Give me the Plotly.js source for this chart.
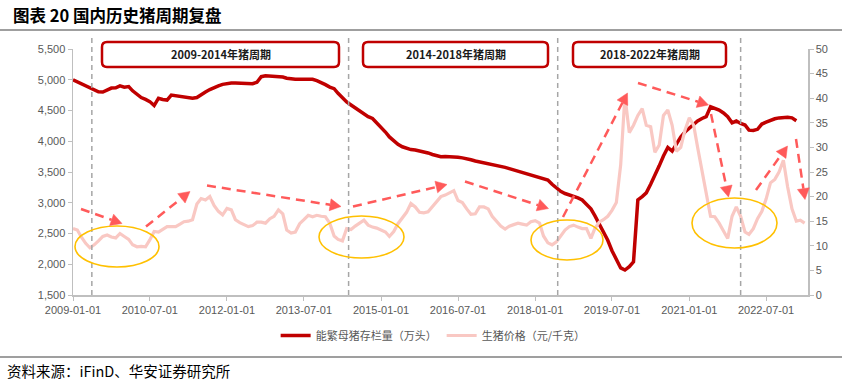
<!DOCTYPE html>
<html><head><meta charset="utf-8">
<script src="https://cdn.plot.ly/plotly-3.0.1.min.js"></script>
<style>html,body{margin:0;padding:0;background:#fff}#chart{width:842px;height:389px}</style>
</head><body><div id="chart"></div>
<script>
// ---------- data ----------
const firstYear = 2009;   // monthly series start 2009-01
const sowInventory = [ // 能繁母猪存栏量（万头）, monthly from 2009-01
5000,4965,4935,4905,4880,4840,4805,4800,4835,4865,
4870,4900,4880,4890,4820,4760,4710,4680,4645,4580,
4700,4680,4670,4750,4740,4730,4715,4700,4698,4710,
4760,4800,4840,4875,4900,4925,4942,4947,4948,4947,
4945,4940,4935,4960,5050,5066,5062,5061,5060,5045,
5025,5012,5008,5007,5005,5008,5007,4985,4955,4920,
4880,4855,4780,4705,4640,4590,4540,4495,4450,4400,
4370,4300,4230,4150,4070,4010,3950,3910,3885,3865,
3858,3845,3832,3810,3785,3765,3750,3752,3750,3749,
3740,3730,3722,3700,3680,3665,3650,3635,3625,3615,
3600,3575,3555,3535,3515,3500,3470,3450,3435,3420,
3400,3370,3300,3245,3185,3150,3125,3110,3080,3045,
2975,2900,2790,2660,2530,2390,2220,2070,1940,1906,
1960,2040,3045,3100,3160,3300,3440,3600,3760,3900,
3840,3950,4070,4150,4210,4270,4330,4370,4400,4560,
4540,4508,4460,4400,4300,4329,4290,4264,4180,4175,
4194,4280,4310,4345,4365,4380,4390,4390,4380,4334
];
const hogPrice = [ // 生猪价格（元/千克）, monthly from 2009-01
13.5,13.2,11.8,10.5,9.6,10.2,11.0,11.9,12.2,11.8,
11.6,12.5,11.9,11.3,10.2,9.8,9.9,9.8,11.2,12.9,
12.8,13.3,13.9,13.9,13.9,14.4,14.9,15.0,15.3,18.5,
19.6,19.3,20.0,18.2,17.0,16.3,17.6,17.3,15.3,14.7,
14.3,13.9,14.1,14.8,14.8,14.6,15.5,16.0,17.3,16.5,
13.2,12.6,12.8,14.5,15.3,16.2,15.9,16.2,16.0,15.9,
14.6,12.0,11.3,11.0,13.5,13.3,14.0,14.7,15.2,14.2,
13.8,13.6,13.2,12.8,11.9,12.9,14.5,15.7,16.8,18.6,
17.9,16.8,16.7,16.9,17.9,19.0,20.0,20.3,20.8,21.2,
19.2,18.8,17.5,16.4,16.5,17.9,17.9,17.5,16.0,14.9,
14.0,13.4,14.0,14.3,14.6,14.4,14.2,14.9,15.1,14.6,
12.0,10.6,10.2,10.8,12.0,13.2,13.9,14.2,13.8,13.5,
13.5,11.5,13.5,14.8,15.3,16.0,17.2,18.8,26.5,40.5,
33.0,34.5,36.5,37.9,34.5,34.2,29.0,30.5,36.5,37.6,
34.5,29.2,30.0,33.5,36.0,34.5,30.0,25.0,21.0,16.0,
15.9,14.6,13.0,11.5,16.0,17.9,16.0,12.8,12.3,13.5,
15.5,17.0,19.5,22.8,23.5,25.0,27.4,22.0,17.5,15.0,
15.2,14.6
];
const seriesNames = ['能繁母猪存栏量（万头）', '生猪价格（元/千克）'];
const cycleLabels = ['2009-2014年猪周期', '2014-2018年猪周期', '2018-2022年猪周期'];
const cycleBoundaries = ['2009-05-15', '2014-05-15', '2018-06-10', '2022-01-01'];

// ---------- layout helpers (pixel geometry of the figure) ----------
const W = 842, H = 389, ML = 73, MR = 34, MT = 49, MB = 94;
const PW = W - ML - MR, PH = H - MT - MB;
const px = v => (v - ML) / PW;
const py = v => (MT + PH - v) / PH;

function monthDates(n) {
  const out = [];
  for (let i = 0; i < n; i++) {
    const y = firstYear + Math.floor(i / 12), m = i % 12 + 1;
    out.push(y + '-' + String(m).padStart(2, '0') + '-01');
  }
  return out;
}

const shapes = [];
const annotations = [];

// header / footer rules
shapes.push({type:'line', xref:'paper', yref:'paper', x0:px(0), x1:px(W), y0:py(30), y1:py(30), line:{color:'#404040', width:1.2}});
shapes.push({type:'line', xref:'paper', yref:'paper', x0:px(0), x1:px(W), y0:py(357), y1:py(357), line:{color:'#404040', width:1.2}});

// cycle boundary dashed verticals
cycleBoundaries.forEach(d => shapes.push({type:'line', xref:'x', yref:'paper', x0:d, x1:d, y0:0, y1:py(36),
  line:{color:'#A6A6A6', width:1.5, dash:'5px,4px'}}));

// rounded boxes with labels
function rrect(x0, y0, x1, y1, r) {
  const P = (x, y) => px(x).toFixed(5) + ',' + py(y).toFixed(5);
  return 'M' + P(x0 + r, y0) + ' L' + P(x1 - r, y0) + ' Q' + P(x1, y0) + ' ' + P(x1, y0 + r) +
    ' L' + P(x1, y1 - r) + ' Q' + P(x1, y1) + ' ' + P(x1 - r, y1) +
    ' L' + P(x0 + r, y1) + ' Q' + P(x0, y1) + ' ' + P(x0, y1 - r) +
    ' L' + P(x0, y0 + r) + ' Q' + P(x0, y0) + ' ' + P(x0 + r, y0) + ' Z';
}
const boxes = [[102, 339], [363, 548], [573, 726]];
boxes.forEach((b, i) => {
  shapes.push({type:'path', xref:'paper', yref:'paper', path: rrect(b[0], 42, b[1], 67, 5),
    line:{color:'#C00000', width:2.5}, fillcolor:'#FFFFFF'});
  annotations.push({xref:'paper', yref:'paper', x:px((b[0] + b[1]) / 2), y:py(54.5), text:'<b>' + cycleLabels[i] + '</b>',
    showarrow:false, xanchor:'center', yanchor:'middle', font:{family:'Noto Sans CJK SC, Liberation Sans', size:11, color:'#1a1a1a'}});
});

// ellipses
[[75, 226, 159, 267], [319, 216, 404, 258], [531, 220, 603, 260], [692, 198, 777, 248]].forEach(e =>
  shapes.push({type:'circle', xref:'paper', yref:'paper', x0:px(e[0]), x1:px(e[2]), y0:py(e[3]), y1:py(e[1]),
    line:{color:'#FFC000', width:1.6}}));

// dashed arrows
const arrowColor = '#FF5A5A';
const arrows = [
  [81, 209, 122, 223.5], [146, 226.5, 190, 191.5], [207, 185.5, 341, 206.5], [353, 206.5, 447, 184.5],
  [465, 181.5, 548.5, 208.5], [563, 217, 627.5, 93], [638, 83, 708.5, 105], [711, 114, 728.5, 197],
  [756, 190, 787.5, 146], [796, 139, 805, 199.5]
];
arrows.forEach(a => {
  const dx = a[2] - a[0], dy = a[3] - a[1], len = Math.hypot(dx, dy);
  const ux = dx / len, uy = dy / len, L = 11, Wd = 6;
  const bx = a[2] - ux * L, by = a[3] - uy * L;
  shapes.push({type:'line', xref:'paper', yref:'paper', x0:px(a[0]), y0:py(a[1]), x1:px(bx), y1:py(by),
    line:{color:arrowColor, width:2.5, dash:'9px,6px'}});
  const p1 = [bx - uy * Wd, by + ux * Wd], p2 = [bx + uy * Wd, by - ux * Wd];
  shapes.push({type:'path', xref:'paper', yref:'paper',
    path:'M' + px(a[2]) + ',' + py(a[3]) + ' L' + px(p1[0]) + ',' + py(p1[1]) + ' L' + px(p2[0]) + ',' + py(p2[1]) + ' Z',
    fillcolor:arrowColor, line:{color:arrowColor, width:0.5}});
});

// title and source
annotations.push({xref:'paper', yref:'paper', x:px(11), y:py(15), xanchor:'left', yanchor:'middle', showarrow:false,
  text:'<b>图表 20 国内历史猪周期复盘</b>', font:{family:'Noto Sans CJK SC, Liberation Sans', size:16.5, color:'#000'}});
annotations.push({xref:'paper', yref:'paper', x:px(5), y:py(370), xanchor:'left', yanchor:'middle', showarrow:false,
  text:'资料来源：iFinD、华安证券研究所', font:{family:'Noto Sans CJK SC, Liberation Sans', size:14.5, color:'#000'}});

const traces = [
  {x: monthDates(hogPrice.length), y: hogPrice, name: seriesNames[1], yaxis:'y2', type:'scatter', mode:'lines',
   line:{color:'#F9C8C3', width:3.2}, legendrank:2},
  {x: monthDates(sowInventory.length), y: sowInventory, name: seriesNames[0], type:'scatter', mode:'lines',
   line:{color:'#C00000', width:3.5}, legendrank:1}
];

const tickFont = {family:'Liberation Sans, Arial', size:11, color:'#595959'};
const layout = {
  width: W, height: H, margin:{l:ML, r:MR, t:MT, b:MB},
  paper_bgcolor:'#fff', plot_bgcolor:'#fff', showlegend:true,
  xaxis:{type:'date', range:['2009-01-01', '2023-04-25'], tick0:'2009-01-01', dtick:'M18', tickformat:'%Y-%m-%d',
    showgrid:false, zeroline:false, showline:true, linecolor:'#BFBFBF', linewidth:1.5, ticks:'outside', ticklen:4,
    tickcolor:'#BFBFBF', tickfont:tickFont},
  yaxis:{range:[1500, 5500], dtick:500, tickformat:',d', showgrid:false, zeroline:false, showline:true,
    linecolor:'#BFBFBF', linewidth:1.5, ticks:'outside', ticklen:4, tickcolor:'#BFBFBF', tickfont:tickFont},
  yaxis2:{range:[0, 50], dtick:5, overlaying:'y', side:'right', showgrid:false, zeroline:false, showline:true,
    linecolor:'#BFBFBF', linewidth:1.5, ticks:'outside', ticklen:4, tickcolor:'#BFBFBF', tickfont:tickFont},
  legend:{orientation:'h', x:0.49, xanchor:'center', y:py(321), yanchor:'top',
    font:{family:'Noto Sans CJK SC, Liberation Sans', size:11, color:'#595959'}, itemwidth:30},
  shapes: shapes, annotations: annotations
};
Plotly.newPlot('chart', traces, layout, {displayModeBar:false, staticPlot:true});
</script></body></html>
